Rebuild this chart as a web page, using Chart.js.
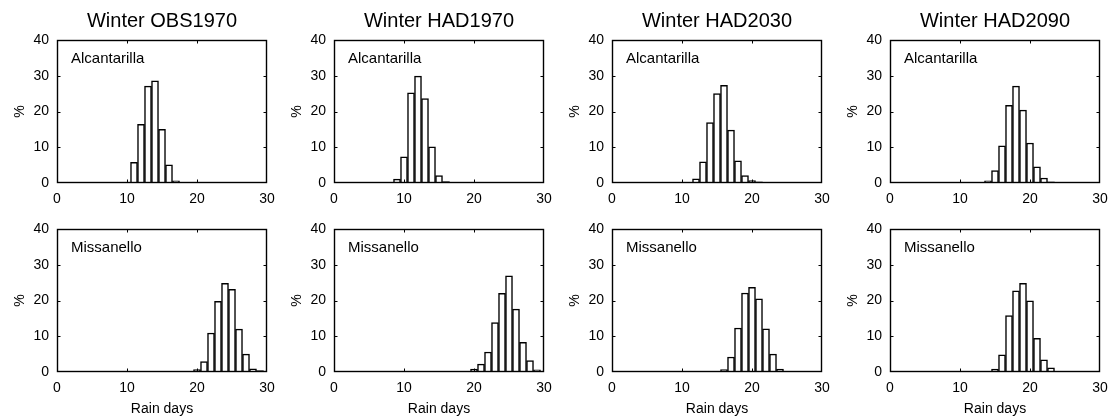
<!DOCTYPE html>
<html>
<head>
<meta charset="utf-8">
<script src="https://cdn.jsdelivr.net/npm/chart.js@4"></script>
<style>
  html, body { margin: 0; padding: 0; background: #fff; }
  #wrap { position: relative; width: 1109px; height: 419px; overflow: hidden; background: #fff; }
  #wrap canvas { position: absolute; }
</style>
</head>
<body>
<div id="wrap"></div>
<script>
// Winter rain-day frequency (%), one histogram per station and period
const periods = ["Winter OBS1970", "Winter HAD1970", "Winter HAD2030", "Winter HAD2090"];
const stations = ["Alcantarilla", "Missanello"];

// first day of each non-empty histogram run
const alcFirstDay = [9, 8, 11, 12];
const misFirstDay = [19, 19, 15, 14];

const alcObs1970 = [0.1, 0.2, 5.8, 16.4, 27.1, 28.6, 15.0, 5.1, 0.6, 0.1];
const alcHad1970 = [0.1, 1.1, 7.3, 25.2, 29.9, 23.6, 10.1, 2.1, 0.4];
const alcHad2030 = [0.1, 1.2, 5.9, 16.9, 25.0, 27.3, 14.8, 6.2, 2.1, 0.7, 0.3];
const alcHad2090 = [0.1, 0.2, 0.6, 3.5, 10.4, 21.7, 27.1, 20.4, 11.2, 4.5, 1.4, 0.3];

const misObs1970 = [0.1, 0.7, 2.9, 10.9, 19.8, 24.8, 23.1, 12.0, 5.0, 0.9, 0.4];
const misHad1970 = [0.1, 0.8, 2.2, 5.6, 13.8, 22.0, 26.9, 17.6, 8.3, 3.2, 0.6];
const misHad2030 = [0.1, 0.7, 4.2, 12.3, 22.1, 23.7, 20.5, 12.1, 5.0, 0.8, 0.2];
const misHad2090 = [0.1, 0.8, 4.8, 15.8, 22.7, 24.8, 19.9, 9.4, 3.4, 1.2, 0.2];

const xTicks = [0, 10, 20, 30];
const yTicks = [0, 10, 20, 30, 40];

const alcSeries = [alcObs1970, alcHad1970, alcHad2030, alcHad2090];
const misSeries = [misObs1970, misHad1970, misHad2030, misHad2090];

const FONT = "'Liberation Sans', Arial, Helvetica, sans-serif";
const INK = "#000";

// panel placement
const colLeft = [57, 334, 612, 890];
const rowTop = [0, 189];
const PLOT_W = 210;
const AXIS_W = 57;

// matlab-like box with inward tick marks, period title and station name
const boxTicks = {
  id: "boxTicks",
  afterDatasetsDraw(chart) {
    const { ctx, chartArea: a, scales: { x, y } } = chart;
    const L = Math.round(a.left) + 0.5, R = Math.round(a.right) - 0.5;
    const T = Math.round(a.top) + 0.5, B = Math.round(a.bottom) - 0.5;
    const len = 3;
    ctx.save();
    ctx.strokeStyle = INK;
    ctx.lineWidth = 1.4;
    ctx.strokeRect(L, T, R - L, B - T);
    ctx.lineWidth = 1;
    ctx.beginPath();
    xTicks.slice(1, -1).forEach(v => {
      const px = Math.round(x.getPixelForValue(v)) + 0.5;
      ctx.moveTo(px, B); ctx.lineTo(px, B - len);
      ctx.moveTo(px, T); ctx.lineTo(px, T + len);
    });
    yTicks.slice(1, -1).forEach(v => {
      const py = Math.round(y.getPixelForValue(v)) + 0.5;
      ctx.moveTo(L, py); ctx.lineTo(L + len, py);
      ctx.moveTo(R, py); ctx.lineTo(R - len, py);
    });
    ctx.stroke();
    ctx.fillStyle = INK;
    ctx.textBaseline = "middle";
    ctx.font = "15px " + FONT;
    ctx.textAlign = "left";
    ctx.fillText(chart.options.stationName, a.left + 14, a.top + 19);
    if (chart.options.periodTitle) {
      ctx.font = "20px " + FONT;
      ctx.textAlign = "center";
      ctx.fillText(chart.options.periodTitle, (a.left + a.right) / 2, a.top - 19);
    }
    ctx.restore();
  }
};

function makePanel(row, col) {
  const series = row === 0 ? alcSeries[col] : misSeries[col];
  const first = row === 0 ? alcFirstDay[col] : misFirstDay[col];
  const points = series.map((v, i) => ({ x: first + i, y: v }));
  const height = row === 0 ? 209 : 230;

  const canvas = document.createElement("canvas");
  canvas.style.left = (colLeft[col] - AXIS_W) + "px";
  canvas.style.top = rowTop[row] + "px";
  canvas.style.width = (AXIS_W * 2 + PLOT_W) + "px";
  canvas.style.height = height + "px";
  canvas.width = AXIS_W * 2 + PLOT_W;
  canvas.height = height;
  document.getElementById("wrap").appendChild(canvas);

  new Chart(canvas, {
    type: "bar",
    data: {
      datasets: [{
        data: points,
        backgroundColor: "#fff",
        borderColor: "#000",
        borderWidth: 1.5,
        barPercentage: 1,
        categoryPercentage: 1
      }]
    },
    options: {
      stationName: stations[row],
      periodTitle: row === 0 ? periods[col] : null,
      responsive: false,
      animation: false,
      events: [],
      layout: { padding: { top: 40, right: AXIS_W, left: 0, bottom: 0 } },
      plugins: {
        legend: { display: false },
        tooltip: { enabled: false },
        title: { display: false }
      },
      scales: {
        x: {
          type: "linear",
          min: 0,
          max: 30,
          offset: false,
          grid: { display: false, drawTicks: false, offset: false },
          border: { display: false },
          ticks: { stepSize: 10, padding: 8, maxRotation: 0, color: INK, font: { family: FONT, size: 14 } },
          title: {
            display: row === 1,
            text: "Rain days",
            color: INK,
            font: { family: FONT, size: 14 },
            padding: { top: 0, bottom: 1 }
          },
          afterFit(scale) { scale.height = row === 0 ? 26 : 47; }
        },
        y: {
          min: 0,
          max: 40,
          grid: { display: false, drawTicks: false },
          border: { display: false },
          ticks: { stepSize: 10, padding: 8, color: INK, font: { family: FONT, size: 14 } },
          title: {
            display: true,
            text: "%",
            color: INK,
            font: { family: FONT, size: 14 },
            padding: { top: 12, bottom: 0 }
          },
          afterFit(scale) { scale.width = AXIS_W; }
        }
      }
    },
    plugins: [boxTicks]
  });
}

for (let r = 0; r < 2; r++) {
  for (let c = 0; c < 4; c++) makePanel(r, c);
}
</script>
</body>
</html>
